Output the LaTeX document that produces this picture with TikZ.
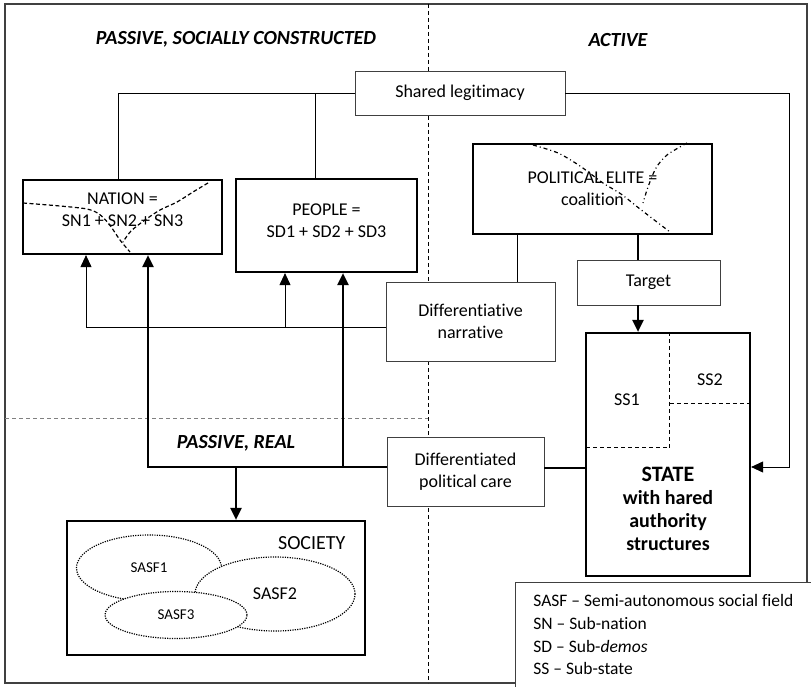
\documentclass[tikz,border=0pt]{standalone}
\usepackage{fontspec}
\setmainfont[Ligatures=NoCommon]{Carlito}
\usetikzlibrary{arrows.meta,shapes.geometric}

\begin{document}
\begin{tikzpicture}[x=1pt,y=-1pt,>={Triangle[length=12pt,width=11pt]},font=\fontsize{18}{22}\selectfont]
    \tikzstyle{thinbox}=[draw=black!75,line width=0.9pt,fill=white,align=center,inner sep=0pt]
    \tikzstyle{thickbox}=[draw=black,line width=2.2pt,fill=white,align=center,inner sep=0pt]
    \tikzstyle{heading}=[font=\fontsize{20}{24}\selectfont\bfseries\itshape]
    \tikzstyle{field}=[ellipse,draw,fill=white,line width=1.2pt,dash pattern=on 1.2pt off 1.2pt,inner sep=0pt]
    \tikzstyle{link}=[line width=0.9pt]
    \tikzstyle{strong}=[line width=2.2pt]
    \tikzstyle{part}=[line width=0.9pt,dash pattern=on 4pt off 3pt]
    \useasboundingbox (0,0) rectangle (811,687);
    % frame and zones
    \draw[line width=1.5pt,black!75] (5,4) rectangle (807,683);
    \draw[line width=0.8pt,dash pattern=on 4pt off 3pt] (428,4) -- (428,683);
    \draw[line width=1pt,gray,dash pattern=on 4pt off 3pt] (5,418) -- (428,418);
    \node[heading] (socialhead) at (236,39) {PASSIVE, SOCIALLY CONSTRUCTED};
    \node[heading] (activehead) at (618,40) {ACTIVE};
    \node[heading] (realhead)   at (236,443) {PASSIVE, REAL};
    % boxes
    \node[thinbox,minimum width=210pt,minimum height=44pt]  (shared)    at (460,93)      {Shared legitimacy};
    \node[thickbox,minimum width=199pt,minimum height=74pt,text depth=14pt] (nation) at (122.5,217) {NATION =\\SN1 + SN2 + SN3};
    \node[thickbox,minimum width=181pt,minimum height=93pt,text depth=10pt] (people) at (326.5,225.5) {PEOPLE =\\SD1 + SD2 + SD3};
    \node[thickbox,minimum width=239pt,minimum height=90pt] (elite)     at (592.5,189)   {POLITICAL ELITE =\\coalition};
    \node[thinbox,minimum width=143pt,minimum height=45pt]  (target)    at (648.5,282.5) {Target};
    \node[thinbox,minimum width=169pt,minimum height=79pt]  (narrative) at (470.5,321.5) {Differentiative\\narrative};
    \node[thinbox,minimum width=157pt,minimum height=69pt]  (care)      at (465.5,471.5) {Differentiated\\political care};
    \node[thickbox,minimum width=164pt,minimum height=243pt] (state)    at (668,454.5)   {};
    \node[thickbox,minimum width=298pt,minimum height=134pt] (society)  at (216,588)     {};
    % state parts
    \draw[part] ([xshift=85pt]state.north west) |- ([yshift=-116pt]state.north west);
    \draw[part] ([xshift=85pt,yshift=-72pt]state.north west) -- ([yshift=-72pt]state.north east);
    \node (ss1) at (627,400) {SS1};
    \node (ss2) at (710,380) {SS2};
    \node[align=center,font=\bfseries\fontsize{20}{23}\selectfont] (statename) at (668,509)
        {{\fontsize{22}{23}\selectfont STATE}\\with hared\\authority\\structures};
    % society fields
    \node[anchor=east,font=\fontsize{20}{24}\selectfont] (societyname) at (349,543) {SOCIETY};
    \node[field,minimum width=145pt,minimum height=66pt,font=\fontsize{15}{18}\selectfont] (sasf1) at (149,568) {SASF1};
    \node[field,minimum width=160pt,minimum height=74pt] (sasf2) at (275,594) {SASF2};
    \node[field,minimum width=142pt,minimum height=47pt,font=\fontsize{15}{18}\selectfont] (sasf3) at (176,615) {SASF3};
    % sub-nations and coalition
    \draw[line width=1.2pt,dash pattern=on 4pt off 2.5pt] plot[smooth] coordinates {(23,203) (60,206) (87,209) (99,214) (109,224) (120,240) (130,252)};
    \draw[line width=1.2pt,dash pattern=on 4pt off 2.5pt] plot[smooth] coordinates {(208,183) (193,192) (177,202) (160,210) (145,220) (131,231) (123,242)};
    \draw[line width=1.2pt,dash pattern=on 4pt off 3pt on 1pt off 3pt] plot[smooth] coordinates {(533,145) (558,153) (580,166) (603,183) (621,194) (640,209) (670,232)};
    \draw[line width=1.2pt,dash pattern=on 4pt off 3pt on 1pt off 3pt] plot[smooth] coordinates {(687,143) (667,155) (656,168) (648,187) (643,203)};
    % connectors
    \coordinate (corner) at (789,93);
    \draw[link] (shared.west) -| ([xshift=-4.5pt]nation.north);
    \draw[link] ([xshift=-11.5pt]people.north) |- (shared.west);
    \draw[link,->] (shared.east) -- (corner) |- ([yshift=-12.5pt]state.east);
    \draw[link] ([xshift=46.5pt]narrative.north) -- ([xshift=-75.5pt]elite.south);
    \coordinate (nj) at (285,327);
    \draw[link,->] ([yshift=-5.5pt]narrative.west) -| ([xshift=-36.5pt]nation.south);
    \draw[link,->] (nj) -- (nj |- people.south);
    \coordinate (pj) at (343,467);
    \coordinate (sj) at (236,467);
    \coordinate (cj) at ([yshift=3.5pt]care.east);
    \draw[strong,->] ([yshift=4.5pt]care.west) -| ([xshift=25.5pt]nation.south);
    \draw[strong,->] (pj) -- (pj |- people.south);
    \draw[strong,->] (sj) -- (sj |- society.north);
    \draw[strong] (cj) -- (cj -| state.west);
    \draw[strong] ([xshift=45.5pt]elite.south) -- ([xshift=-10.5pt]target.north);
    \draw[strong,->] ([xshift=-10.5pt]target.south) -- ([xshift=-30pt]state.north);
    % legend
    \node[draw=black!75,line width=0.9pt,fill=white,anchor=north west,align=left,minimum width=296pt,
          inner xsep=13pt,inner ysep=12pt,text depth=24pt,font=\fontsize{17.5}{22.7}\selectfont] (legend) at (515,582)
        {SASF – Semi-autonomous social field\\SN – Sub-nation\\SD – Sub-\textit{demos}\\SS – Sub-state};
\end{tikzpicture}
\end{document}
